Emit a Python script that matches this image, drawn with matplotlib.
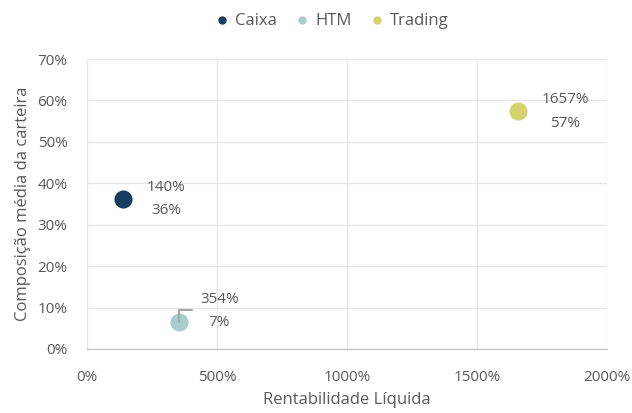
import matplotlib.pyplot as plt
from matplotlib.ticker import FuncFormatter
from matplotlib.lines import Line2D

plt.rcParams['font.family'] = ['Open Sans', 'DejaVu Sans']

# data
series = ["Caixa", "HTM", "Trading"]
rentabilidade = [1.40, 3.54, 16.57]     # x, fraction
composicao = [0.362, 0.065, 0.574]      # y, fraction
labels_x = ["140%", "354%", "1657%"]
labels_y = ["36%", "7%", "57%"]
colors = ["#173d63", "#a7cecd", "#d4d36c"]

text_color = "#595959"

fig = plt.figure(figsize=(6.32, 4.13), dpi=100)
ax = fig.add_axes([0.1377, 0.155, 0.8227, 0.702])

for name, x, y, c in zip(series, rentabilidade, composicao, colors):
    ax.scatter(x, y, s=170, color=c, zorder=3, label=name, linewidths=0)

# data labels
for i, (x, y) in enumerate(zip(rentabilidade, composicao)):
    txt = f"{labels_x[i]}\n{labels_y[i]}"
    if series[i] == "HTM":
        # callout with small elbow leader line
        ax.annotate(txt, (x, y), xytext=(15, 8), textcoords="offset points",
                    ha="left", va="center", multialignment="center",
                    fontsize=11, color=text_color, linespacing=1.8)
        ax.annotate("", (x, y), xytext=(9, 9), textcoords="offset points",
                    arrowprops=dict(arrowstyle="-", color="#a6a6a6", lw=1.5,
                                    connectionstyle="angle,angleA=180,angleB=90,rad=0",
                                    shrinkA=0, shrinkB=0))
    else:
        ax.annotate(txt, (x, y), xytext=(17, 0), textcoords="offset points",
                    ha="left", va="center", multialignment="center",
                    fontsize=11, color=text_color, linespacing=1.8)

ax.set_xlim(0, 20)
ax.set_ylim(0, 0.70)
ax.set_xticks([0, 5, 10, 15, 20])
ax.set_yticks([i / 10 for i in range(8)])
ax.xaxis.set_major_formatter(FuncFormatter(lambda v, p: f"{v * 100:.0f}%"))
ax.yaxis.set_major_formatter(FuncFormatter(lambda v, p: f"{v * 100:.0f}%"))

ax.grid(True, color="#e6e6e6", lw=1)
ax.set_axisbelow(True)
for side in ["top", "right"]:
    ax.spines[side].set_visible(False)
ax.spines["left"].set_color("#e6e6e6")
ax.spines["bottom"].set_color("#bfbfbf")
ax.tick_params(length=0, labelsize=11, colors=text_color, pad=14)
ax.tick_params(axis="x", pad=15)

ax.set_xlabel("Rentabilidade Líquida", fontsize=12, color=text_color, labelpad=5)
ax.set_ylabel("Composição média da carteira", fontsize=12, color=text_color, labelpad=5)

handles = [Line2D([], [], marker="o", ls="", color=c, markersize=5) for c in colors]
fig.legend(handles, series, loc="center", bbox_to_anchor=(0.527, 0.948), ncol=3,
           frameon=False, fontsize=12, handlelength=0.6, handletextpad=0.5,
           columnspacing=1.2, labelcolor=text_color)

fig.savefig("out.png", dpi=100)
